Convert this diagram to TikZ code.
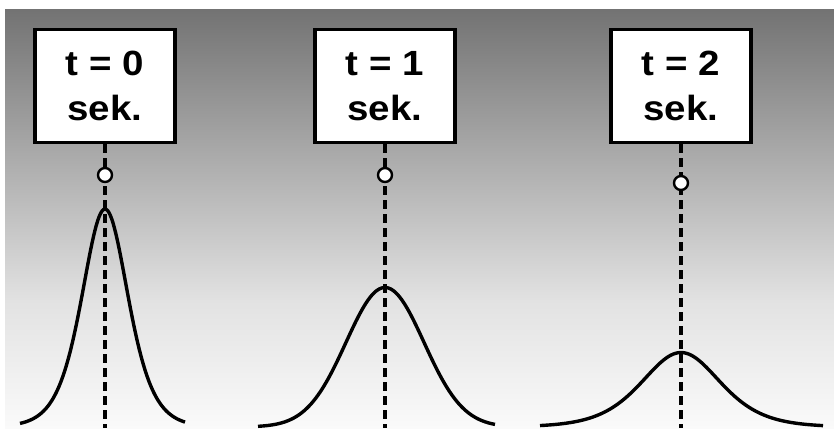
\documentclass[tikz,border=0pt]{standalone}
\usepackage{fontspec}
\newfontfamily\boxfont[FakeStretch=1.1]{Liberation Sans}
\definecolor{gtop}{RGB}{115,115,115}
\definecolor{gmid}{RGB}{226,226,226}
\definecolor{gbot}{RGB}{250,250,250}
\begin{document}
\begin{tikzpicture}[x=1pt,y=-1pt,
  tbox/.style={draw=black, line width=3.2pt, fill=white, minimum width=140pt, minimum height=113pt,
    inner sep=0pt, align=center, font=\boxfont\bfseries\fontsize{35}{45.5}\selectfont},
  dline/.style={draw=black, line width=3.4pt, dash pattern=on 9pt off 5pt},
  dot/.style={circle, draw=black, line width=2.4pt, fill=white, minimum size=14pt, inner sep=0pt},
  curve/.style={draw=black, line width=3.4pt, line join=round}]
\useasboundingbox (0,0) rectangle (834,428);
\fill[white] (0,0) rectangle (834,428);
\shade[top color=gtop, bottom color=gmid] (5,10) rectangle (834,301);
\shade[top color=gmid, bottom color=gbot] (5,300) rectangle (834,428);
% curves
\draw[curve] plot[domain=20:185, samples=120] (\x, {427 - 218/(cosh((\x-105)/31)*cosh((\x-105)/31))});
\draw[curve] plot[domain=258:495, samples=120] (\x, {427 - 139.5*exp(-0.5*((\x-385)/39)*((\x-385)/39))});
\draw[curve] plot[domain=540:823, samples=120] (\x, {427 - 74.5/(cosh((\x-681)/53)*cosh((\x-681)/53))});
% boxes
\node[tbox] (b0) at (105,86) {t = 0\\sek.};
\node[tbox] (b1) at (385,86) {t = 1\\sek.};
\node[tbox] (b2) at (681,86) {t = 2\\sek.};
\coordinate (e0) at (105,428);
\coordinate (e1) at (385,428);
\coordinate (e2) at (681,428);
\draw[dline] (b0.south) -- (e0);
\draw[dline] (b1.south) -- (e1);
\draw[dline] (b2.south) -- (e2);
\node[dot] (c0) at (105,175) {};
\node[dot] (c1) at (385,175) {};
\node[dot] (c2) at (681,183) {};
\end{tikzpicture}
\end{document}
